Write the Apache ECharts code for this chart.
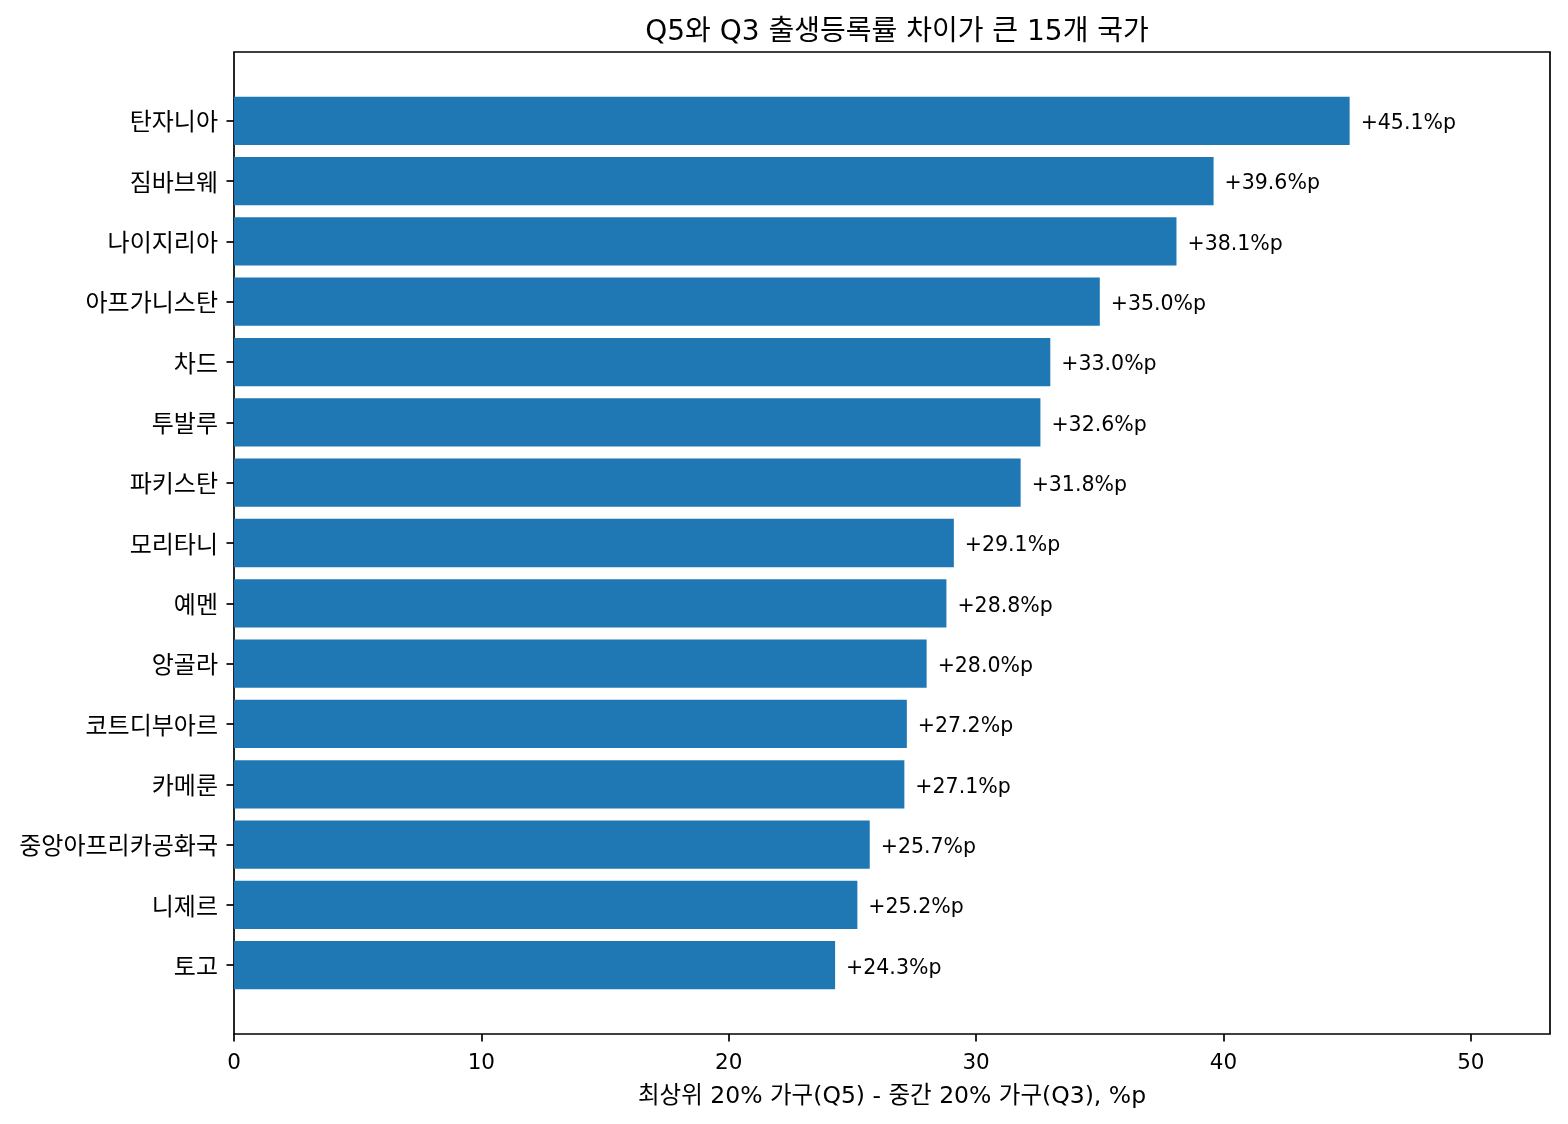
<!DOCTYPE html>
<html><head><meta charset="utf-8">
<script src="https://cdn.jsdelivr.net/npm/echarts@6/dist/echarts.min.js"></script>
<style>html,body{margin:0;padding:0;background:#fff}#c{width:1568px;height:1124px}</style>
</head><body><div id="c"></div>
<script>
const countries = ['탄자니아','짐바브웨','나이지리아','아프가니스탄','차드','투발루','파키스탄','모리타니','예멘','앙골라','코트디부아르','카메룬','중앙아프리카공화국','니제르','토고'];
const gaps = [45.1,39.6,38.1,35.0,33.0,32.6,31.8,29.1,28.8,28.0,27.2,27.1,25.7,25.2,24.3];
const xTicks = [0,10,20,30,40,50];
const titleText = 'Q5와 Q3 출생등록률 차이가 큰 15개 국가';
const xName = '최상위 20% 가구(Q5) - 중간 20% 가구(Q3), %p';

const FONT = '"DejaVu Sans", "Noto Sans CJK KR", sans-serif';
const L = 234, T = 52, W = 1316, H = 982;
const xMax = 53.2;
const n = countries.length;
// matplotlib-like layout: bars span -0.4..n-0.6, plus 5% margin each side
const span = (n - 0.2) * 1.1;
const unit = H / span;
const bandTop = T + ((span - (n - 0.2)) / 2 - 0.1) * unit;
const chart = echarts.init(document.getElementById('c'), null, {renderer:'canvas'});
chart.setOption({
  animation:false,
  title:{text:titleText,left:L+W/2,top:14,textAlign:'center',textStyle:{fontFamily:FONT,fontSize:28,fontWeight:'normal',color:'#000'}},
  grid:[
    {left:L,top:T,width:W,height:H,show:true,borderColor:'#000',borderWidth:1.7,backgroundColor:'transparent'},
    {left:L,top:bandTop,width:W,height:n*unit,show:false}
  ],
  xAxis:[
    {gridIndex:0,type:'value',min:0,max:xMax,
     axisLine:{show:false},
     axisTick:{show:true,length:7.5,customValues:xTicks,lineStyle:{color:'#000',width:1.7}},
     splitLine:{show:false},
     axisLabel:{fontFamily:FONT,fontSize:21.5,color:'#000',margin:19,customValues:xTicks},
     name:xName,nameLocation:'middle',nameGap:51,
     nameTextStyle:{fontFamily:FONT,fontSize:23.5,color:'#000'}},
    {gridIndex:1,type:'value',min:0,max:xMax,show:false}
  ],
  yAxis:[
    {gridIndex:0,type:'value',min:0,max:1,show:false},
    {gridIndex:1,type:'category',data:countries,inverse:true,
     axisLine:{show:false},
     axisTick:{show:true,alignWithLabel:true,length:7.5,lineStyle:{color:'#000',width:1.7}},
     axisLabel:{fontFamily:FONT,fontSize:24,color:'#000',margin:16,
       formatter:v=>'{a|'+v+'}',
       rich:{a:{fontFamily:FONT,fontSize:24,color:'#000',padding:[7,0,0,0]}}}}
  ],
  series:[{
    type:'bar',xAxisIndex:1,yAxisIndex:1,data:gaps,
    barWidth:'80%',
    itemStyle:{color:'#1f77b4'},
    label:{show:true,position:'right',distance:11,offset:[0,3],fontFamily:FONT,fontSize:20.5,color:'#000',
      formatter:p=>'+'+p.value.toFixed(1)+'%p'}
  }]
});
</script></body></html>
